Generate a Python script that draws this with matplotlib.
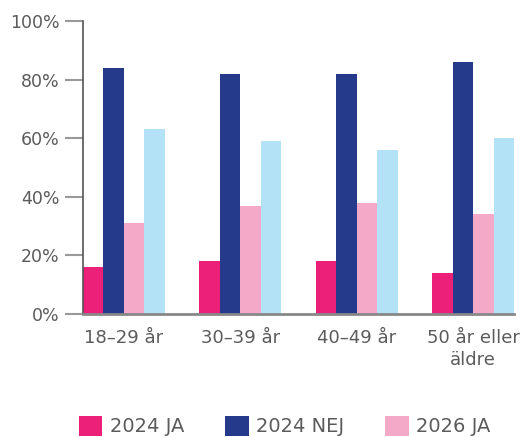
import numpy as np
import matplotlib
matplotlib.use("Agg")
import matplotlib.pyplot as plt
from matplotlib.ticker import PercentFormatter

# data
groups = ["18–29 år", "30–39 år", "40–49 år", "50 år eller\näldre"]
ja_2024 = [16, 18, 18, 14]
nej_2024 = [84, 82, 82, 86]
ja_2026 = [31, 37, 38, 34]
nej_2026 = [63, 59, 56, 60]

series = [("2024 JA", ja_2024, "#ED2079"),
          ("2024 NEJ", nej_2024, "#253A8A"),
          ("2026 JA", ja_2026, "#F4A9C9"),
          ("2026 NEJ", nej_2026, "#B3E2F7")]

text_col = "#5b5b5b"
plt.rcParams["font.family"] = "DejaVu Sans"

fig = plt.figure(figsize=(5.23, 4.37), dpi=100)
ax = fig.add_axes([83 / 523, 1 - 314 / 437, (514 - 83) / 523, (314 - 21) / 437])

x = np.arange(len(groups))
bw = 0.176
handles = []
for i, (name, vals, col) in enumerate(series):
    b = ax.bar(x + (i - 1.5) * bw, vals, bw, color=col, label=name, zorder=2)
    handles.append(b)

ax.set_xlim(-2 * bw, 3 + 2 * bw)
ax.set_ylim(0, 100)
ax.set_yticks([0, 20, 40, 60, 80, 100])
ax.yaxis.set_major_formatter(PercentFormatter(decimals=0))
ax.set_xticks(x)
ax.set_xticklabels(groups, linespacing=1.25)

for s in ["top", "right"]:
    ax.spines[s].set_visible(False)
ax.spines["left"].set_color("#555555")
ax.spines["left"].set_linewidth(1.2)
ax.spines["bottom"].set_color("#888888")
ax.spines["bottom"].set_linewidth(2)
ax.spines["bottom"].set_zorder(3)

ax.tick_params(axis="y", length=13, width=1.5, color="#999999", pad=4,
               labelsize=12.5, labelcolor=text_col)
ax.tick_params(axis="x", length=0, pad=11, labelsize=13, labelcolor=text_col)

# legend only shows the first three entries (fourth is cut off in the original)
fig.legend(handles[:3], [s[0] for s in series[:3]], loc="center left",
           bbox_to_anchor=(79 / 523, 1 - 426 / 437), ncol=3, frameon=False,
           fontsize=14, labelcolor=text_col, handlelength=1.2, handleheight=1.2,
           handletextpad=0.4, columnspacing=2.1, borderpad=0, borderaxespad=0)

fig.savefig("out.png", dpi=100)
